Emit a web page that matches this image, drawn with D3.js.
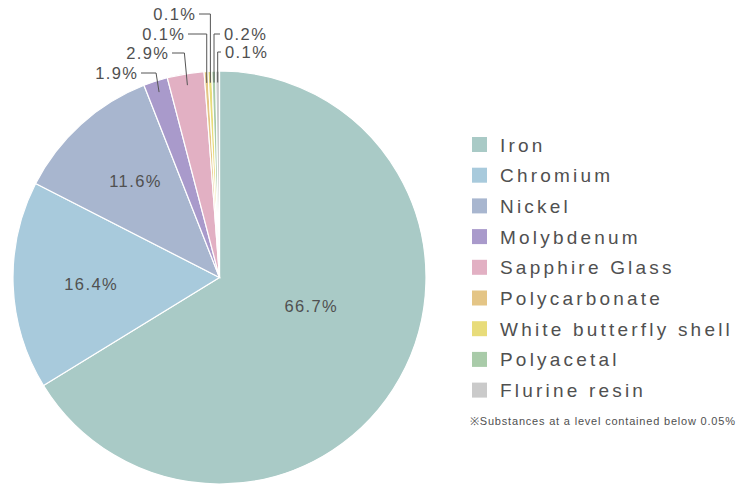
<!DOCTYPE html>
<html>
<head>
<meta charset="utf-8">
<script src="https://cdn.jsdelivr.net/npm/d3@7/dist/d3.min.js"></script>
<style>
  html, body { margin: 0; padding: 0; background: #fff; }
  svg { display: block; }
  text { font-family: "Liberation Sans", Arial, sans-serif; fill: #505050; }
</style>
</head>
<body>
<svg id="chart" width="740" height="485"></svg>
<script>
// ---- data ----
const categories = ["Iron", "Chromium", "Nickel", "Molybdenum", "Sapphire Glass",
  "Polycarbonate", "White butterfly shell", "Polyacetal", "Flurine resin"];
const shares = [66.7, 16.4, 11.6, 1.9, 2.9, 0.1, 0.1, 0.2, 0.1];
const colors = ["#a9cac6", "#a8cadc", "#a8b6cf", "#a99acb", "#e2b0c3",
  "#e4c586", "#e8dc7a", "#a9cba9", "#cacaca"];
const footnote = "\u203BSubstances at a level contained below 0.05%";

// ---- layout config ----
const W = 740, H = 485;
const cx = 219.5, cy = 277.5, R = 206.5;
const minVisible = 0.3; // tiny slices are drawn with a minimum visible width
// inside labels: polar anchor (deg clockwise from top, radius)
const insideAnchor = { "Iron": [107, 96], "Chromium": [267.3, 128.5], "Nickel": [319, 128] };
// outside labels: label y and side
const outside = {
  "Molybdenum":            { y: 73, side: "left",  textX: 137 },
  "Sapphire Glass":        { y: 53, side: "left",  textX: 168 },
  "Polycarbonate":         { y: 34, side: "left",  textX: 184 },
  "White butterfly shell": { y: 14, side: "left",  textX: 195 },
  "Polyacetal":            { y: 34, side: "right", textX: 224 },
  "Flurine resin":         { y: 52, side: "right", textX: 225 }
};

const data = categories.map((c, i) => ({ name: c, value: shares[i], color: colors[i] }));
const svg = d3.select("#chart");
const g = svg.append("g").attr("transform", `translate(${cx},${cy})`);

const pie = d3.pie().sort(null).value(d => Math.max(d.value, minVisible));
const arcs = pie(data);
const arc = d3.arc().innerRadius(0).outerRadius(R);

g.selectAll("path.slice").data(arcs).join("path")
  .attr("class", "slice")
  .attr("d", arc)
  .attr("fill", d => d.data.color)
  .attr("stroke", "#fff")
  .attr("stroke-width", 1.2);

const fmt = v => v.toFixed(1) + "%";
const rad = deg => deg * Math.PI / 180;
const labelSize = 16.5, labelSpacing = 1.4;

// inside labels
arcs.filter(a => insideAnchor[a.data.name]).forEach(a => {
  const [ang, r] = insideAnchor[a.data.name];
  g.append("text")
    .attr("x", r * Math.sin(rad(ang)))
    .attr("y", -r * Math.cos(rad(ang)))
    .attr("text-anchor", "middle")
    .attr("dominant-baseline", "central")
    .attr("font-size", labelSize)
    .attr("letter-spacing", labelSpacing)
    .text(fmt(a.data.value));
});

// outside labels with leader lines
const lineR = 195;
arcs.filter(a => outside[a.data.name]).forEach(a => {
  const o = outside[a.data.name];
  const mid = (a.startAngle + a.endAngle) / 2;
  const px = lineR * Math.sin(mid), py = -lineR * Math.cos(mid);
  const ly = o.y - cy;
  const tx = o.textX - cx;
  const elbowX = (o.side === "left" && a.data.value >= 1) ? px - 3 : px;
  const endX = o.side === "left" ? tx + 4 : tx - 4;
  g.append("polyline")
    .attr("points", [[endX, ly], [elbowX, ly], [px, py]].map(p => p.join(",")).join(" "))
    .attr("fill", "none")
    .attr("stroke", "#555")
    .attr("stroke-width", 1);
  g.append("text")
    .attr("x", o.side === "left" ? tx + labelSpacing : tx)
    .attr("y", ly)
    .attr("text-anchor", o.side === "left" ? "end" : "start")
    .attr("dominant-baseline", "central")
    .attr("font-size", labelSize)
    .attr("letter-spacing", labelSpacing)
    .text(fmt(a.data.value));
});

// legend
const legend = svg.append("g").attr("transform", "translate(472,144.5)");
const rowH = 30.7;
const items = legend.selectAll("g.item").data(data).join("g")
  .attr("class", "item")
  .attr("transform", (d, i) => `translate(0,${i * rowH})`);
items.append("rect")
  .attr("x", 0).attr("y", -7.5).attr("width", 15).attr("height", 15)
  .attr("fill", d => d.color);
items.append("text")
  .attr("x", 28).attr("y", 0.5)
  .attr("dominant-baseline", "central")
  .attr("font-size", 19)
  .attr("letter-spacing", 3.2)
  .text(d => d.name);

const fn = svg.append("text")
  .attr("x", 470).attr("y", 421)
  .attr("dominant-baseline", "central")
  .attr("font-size", 11)
  .text(footnote);
// stretch footnote spacing to reach the reference's right edge
const natural = fn.node().getComputedTextLength();
const target = 265;
fn.attr("letter-spacing", Math.max(0, (target - natural) / (footnote.length - 1)));
</script>
</body>
</html>
